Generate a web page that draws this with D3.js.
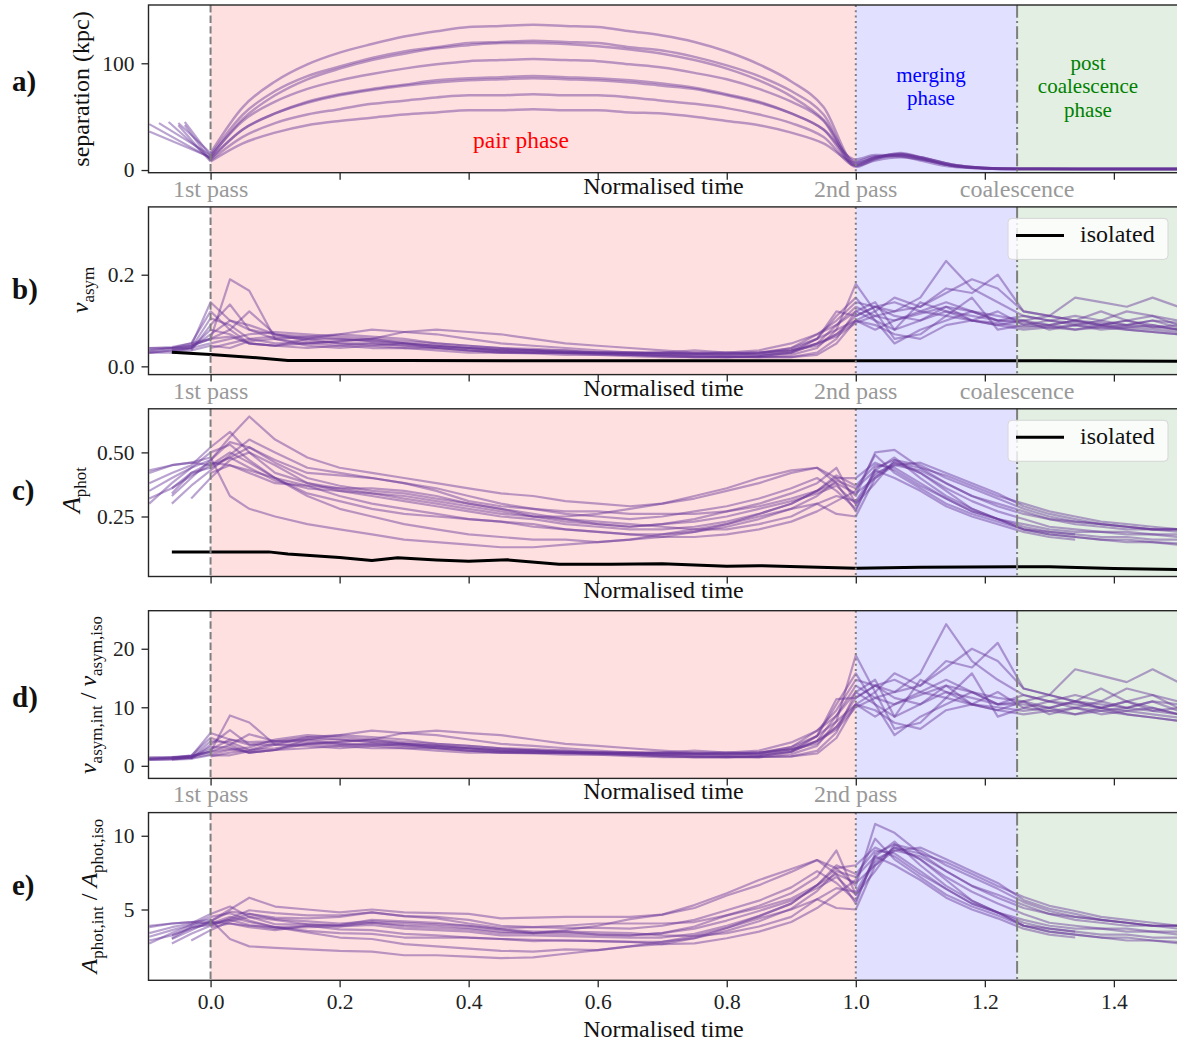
<!DOCTYPE html>
<html><head><meta charset="utf-8">
<script src="https://cdn.jsdelivr.net/npm/d3@7"></script>
<style>
body{margin:0;background:#fff}
svg{display:block}
text{font-family:"Liberation Serif","DejaVu Serif",serif}
</style>
</head><body>
<svg id="chart" width="1177" height="1043"></svg>
<script>
// ---------------- DATA ----------------
const xTickValues = [0, 0.2, 0.4, 0.6, 0.8, 1.0, 1.2, 1.4];
const xTickLabels = ["0.0", "0.2", "0.4", "0.6", "0.8", "1.0", "1.2", "1.4"];
const phaseBounds = [0, 1, 1.25, 1.5];
const markerTimes = [0, 1, 1.25];
const markerLabels = ["1st pass", "2nd pass", "coalescence"];
const panelLetters = ["a)", "b)", "c)", "d)", "e)"];
const phaseNames = [["pair phase"], ["merging", "phase"], ["post", "coalescence", "phase"]];

// panel a: separation (kpc)
const sepTimes = [-0.095,-0.08,-0.065,-0.05,-0.04,-0.025,0,0.05,0.1,0.15,0.2,0.25,0.3,0.35,0.4,0.45,0.5,0.55,0.6,0.65,0.7,0.75,0.8,0.85,0.9,0.95,1.0,1.03,1.07,1.1,1.15,1.2,1.25,1.35,1.5];
const sepLines = [
 [null,null,null,44,null,null, 16, 59,83,99,110,118,125,130,134,135,136,135,134,130,126,120,111,99,83,59, 6,12,14,11,4,2,1.2,1,1],
 [null,44,null,null,null,null, 14, 52,74,88,97,105,111,115,119,120,121,120,119,115,112,106,98,88,74,52, 4,11,15,12,5,2,1.2,1,1],
 [36,null,null,null,null,null, 12, 48,70,85,95,103,109,114,117,119,119,118,116,113,109,103,95,84,69,47, 8,13,13,10,4,1.5,1,1,1],
 [null,null,null,null,45,null, 13, 46,64,76,84,90,95,99,102,103,104,103,102,99,96,91,85,76,64,46, 3,10,14,12,5,2,1,1,1],
 [null,null,45,null,null,null, 10, 38,53,64,71,76,80,84,86,87,88,87,86,84,81,77,71,64,53,38, 5,12,15,11,4,1.5,1,1,1],
 [43,null,null,null,null,null, 11, 38,53,63,70,75,79,82,84,85,86,85,84,82,79,76,70,63,53,38, 10,14,13,9,3,1.5,1,1,1],
 [null,null,null,null,42,null, 9, 31,44,52,57,62,65,68,70,70,71,70,70,68,65,62,58,52,44,31, 4,9,12,10,4,2,1.2,1,1],
 [null,null,null,42,null,null, 8, 25,35,42,46,49,52,54,56,56,57,56,56,54,53,50,46,42,35,25, 7,11,16,12,5,2,1,1,1]
];

// panels b-e share one time grid
const timeGrid = [-0.095,-0.06,-0.03,0,0.03,0.06,0.1,0.15,0.2,0.25,0.3,0.35,0.4,0.45,0.5,0.55,0.6,0.65,0.7,0.75,0.8,0.85,0.9,0.94,0.97,1.0,1.03,1.06,1.1,1.14,1.18,1.22,1.26,1.3,1.34,1.38,1.42,1.46,1.5];

// panel b: v_asym
const vasymLines = [
 [.04,.042,.05, .06,.19,.165,.06, .05,.045,.04,.04,.035,.03,.03,.028,.025,.025,.022,.02,.02,.02,.022, .03,.05,.09, .13,.11,.12,.15,.23,.17,.14, .11,.1,.09,.1,.09,.085,.08],
 [.03,.035,.045, .14,.1,.08,.07, .065,.06,.055,.05,.045,.04,.035,.035,.03,.03,.028,.025,.025,.022,.02, .025,.04,.08, .18,.12,.15,.13,.17,.16,.2, .12,.11,.1,.09,.085,.09,.08],
 [null,.03,.04, .105,.09,.06,.05, .05,.055,.06,.05,.045,.04,.035,.03,.03,.028,.025,.025,.022,.02,.02, .02,.03,.06, .12,.14,.08,.1,.13,.12,.1, .1,.11,.1,.12,.1,.11,.09],
 [null,null,.035, .09,.135,.08,.06, .045,.04,.045,.05,.04,.035,.03,.03,.03,.028,.025,.022,.02,.02,.022, .03,.06,.11, .15,.1,.08,.14,.12,.1,.09, .1,.08,.09,.085,.08,.075,.07],
 [.035,.04,.04, .05,.06,.07,.075, .07,.065,.06,.055,.05,.045,.04,.038,.035,.03,.03,.028,.028,.025,.025, .03,.05,.07, .11,.13,.14,.12,.11,.1,.12, .09,.1,.11,.1,.12,.11,.1],
 [.03,.035,.04, .08,.07,.05,.045, .06,.07,.065,.06,.05,.045,.04,.035,.03,.03,.028,.03,.035,.03,.025, .035,.045,.07, .1,.08,.1,.12,.14,.12,.1, .095,.09,.1,.09,.1,.09,.08],
 [null,.04,.045, .06,.08,.12,.07, .06,.05,.045,.04,.04,.035,.032,.03,.03,.028,.026,.025,.025,.025,.028, .04,.07,.1, .14,.13,.12,.13,.16,.19,.17, .12,.11,.15,.14,.13,.15,.13],
 [.035,.04,.05, .12,.08,.05,.045, .04,.045,.05,.045,.04,.035,.03,.03,.028,.025,.025,.022,.02,.02,.02, .02,.025,.05, .1,.09,.07,.06,.09,.1,.09, .08,.085,.08,.09,.08,.075,.07],
 [null,null,null, .04,.05,.06,.065, .06,.06,.055,.05,.045,.04,.035,.035,.032,.03,.03,.03,.028,.03,.035, .05,.07,.09, .12,.1,.05,.08,.1,.12,.11, .1,.09,.08,.085,.09,.1,.095],
 [.03,.03,.035, .045,.04,.055,.06, .065,.07,.08,.075,.07,.06,.05,.045,.04,.035,.03,.03,.028,.028,.03, .04,.06,.08, .1,.12,.06,.07,.11,.15,.08, .09,.085,.09,.08,.085,.08,.075],
 [null,.035,.04, .07,.1,.09,.07, .055,.05,.05,.045,.042,.04,.038,.035,.035,.03,.03,.028,.028,.027,.03, .035,.06,.12, .11,.13,.11,.1,.12,.11,.1, .11,.1,.095,.09,.1,.085,.09],
 [.04,.04,.045, .06,.065,.05,.045, .05,.055,.06,.075,.08,.075,.07,.06,.05,.045,.04,.035,.03,.03,.03, .035,.05,.065, .095,.11,.1,.115,.13,.1,.095, .085,.09,.1,.095,.09,.1,.085]
];
const vasymIsoTimes = [-0.06, 0.0, 0.06, 0.12, 0.3, 0.5, 0.7, 0.9, 1.1, 1.3, 1.5];
const vasymIso = [0.031, 0.026, 0.02, 0.013, 0.013, 0.012, 0.012, 0.012, 0.012, 0.012, 0.011];

// panel c: A_phot
const aphotLines = [
 [null,.33,.40, .47,.56,.64,.55, .48,.44,.42,.40,.38,.36,.34,.33,.31,.30,.29,.30,.32,.35,.38, .42,.44,.40, .33,.50,.51,.44,.38,.33,.29, .26,.24,.23,.22,.21,.2,.2],
 [.43,.45,.46, .48,.33,.28,.25, .22,.2,.18,.16,.15,.14,.13,.13,.14,.15,.16,.18,.2,.22,.25, .28,.3,.26, .25,.4,.46,.42,.35,.28,.24, .2,.18,.17,.16,.16,.15,.145],
 [.35,.4,.44, .47,.54,.52,.46, .40,.37,.35,.34,.32,.30,.28,.26,.24,.22,.21,.22,.24,.27,.30, .34,.38,.44, .3,.38,.47,.45,.40,.36,.32, .28,.25,.23,.22,.21,.2,.2],
 [null,.3,.37, .43,.49,.55,.50, .44,.42,.40,.38,.36,.33,.30,.28,.26,.25,.24,.25,.27,.29,.32, .36,.40,.35, .28,.43,.48,.40,.33,.28,.24, .21,.19,.18,.17,.17,.16,.16],
 [null,null,.32, .40,.47,.5,.45, .38,.35,.33,.31,.29,.27,.25,.24,.22,.21,.20,.20,.21,.23,.26, .30,.35,.41, .37,.45,.44,.38,.32,.27,.24, .22,.2,.19,.19,.18,.18,.17],
 [.42,.45,.46, .45,.48,.44,.39, .36,.35,.34,.32,.3,.28,.26,.25,.24,.23,.22,.21,.2,.2,.22, .25,.3,.33, .31,.42,.45,.43,.38,.33,.3, .27,.24,.22,.21,.2,.2,.19],
 [.3,.38,.44, .5,.53,.47,.4, .34,.31,.28,.26,.25,.24,.23,.22,.2,.19,.18,.17,.17,.18,.2, .23,.27,.31, .35,.49,.42,.36,.3,.26,.23, .2,.19,.18,null,null,null,null],
 [null,.34,.42, .46,.45,.42,.38, .37,.36,.36,.35,.33,.3,.28,.25,.23,.22,.21,.22,.23,.25,.28, .31,.34,.37, .3,.41,.46,.44,.41,.37,.33, .3,.27,.25,.23,.22,.21,.2],
 [null,null,null, .42,.45,.43,.4, .37,.33,.3,.28,.26,.24,.23,.21,.2,.19,.18,.18,.19,.21,.24, .28,.33,.39, .36,.43,.4,.35,.29,.25,.22, .19,.17,.16,null,null,null,null],
 [.38,.42,.45, .52,.58,.5,.42, .38,.36,.34,.33,.31,.29,.27,.25,.25,.26,.28,.3,.33,.36,.4, .43,.44,.38, .27,.44,.47,.42,.36,.31,.27, .24,.21,.2,.19,.19,.18,.18],
 [.32,.36,.41, .45,.5,.46,.4, .33,.28,.25,.22,.2,.18,.17,.16,.16,.15,.16,.17,.19,.22,.26, .3,.35,.4, .4,.46,.43,.37,.32,.27,.24, .2,.18,.17,.16,.15,.15,.14],
 [null,.36,.42, .44,.48,.52,.47, .42,.41,.4,.38,.35,.31,.29,.28,.27,.27,.26,.26,.26,.27,.29, .32,.35,.38, .34,.40,.45,.46,.42,.38,.34, .29,.26,.24,.22,.21,.2,.2]
];
const aphotIsoTimes = [-0.06,0.09,0.12,0.2,0.25,0.29,0.35,0.4,0.46,0.54,0.62,0.7,0.8,0.85,1.0,1.1,1.25,1.3,1.4,1.5];
const aphotIso = [0.112,0.112,0.104,0.09,0.078,0.089,0.08,0.075,0.081,0.064,0.064,0.066,0.056,0.058,0.048,0.052,0.054,0.054,0.047,0.043];

// panel d: v_asym,int / v_asym,iso
const vratioLines = [
 [1.4,1.5,1.75, 2.4,8.6,7.4,3.6, 3.75,3.4,3.0,3.0,2.6,2.25,2.25,2.1,1.9,1.9,1.65,1.5,1.5,1.5,1.65, 2.4,4.25,8.6, 13.7,11.6,12.6,15.8,24.2,17.9,14.7, 12.1,11,9.9,11,9.9,9.4,8.8],
 [1.05,1.2,1.6, 5.6,4.5,3.6,4.2, 4.9,4.5,4.1,3.75,3.4,3.0,2.6,2.6,2.25,2.25,2.1,1.9,1.9,1.65,1.5, 2.0,3.4,7.6, 18.9,12.6,15.8,13.7,17.9,16.8,21, 13.2,12.1,11,9.9,9.4,9.9,8.8],
 [null,1.05,1.4, 4.2,4.05,2.7,3.0, 3.75,4.1,4.5,3.75,3.4,3.0,2.6,2.25,2.25,2.1,1.9,1.9,1.65,1.5,1.5, 1.6,2.55,5.7, 12.6,14.7,8.4,10.5,13.7,12.6,10.5, 11,12.1,11,13.2,11,12.1,9.9],
 [null,null,1.2, 3.6,6.1,3.6,3.6, 3.4,3.0,3.4,3.75,3.0,2.6,2.25,2.25,2.25,2.1,1.9,1.65,1.5,1.5,1.65, 2.4,5.1,10.5, 15.8,10.5,8.4,14.7,12.6,10.5,9.5, 11,8.8,9.9,9.4,8.8,8.25,7.7],
 [1.2,1.4,1.4, 2.0,2.7,3.15,4.5, 5.25,4.9,4.5,4.1,3.75,3.4,3.0,2.85,2.6,2.25,2.25,2.1,2.1,1.9,1.9, 2.4,4.25,6.65, 11.6,13.7,14.7,12.6,11.6,10.5,12.6, 9.9,11,12.1,11,13.2,12.1,11],
 [1.05,1.2,1.4, 3.2,3.15,2.25,2.7, 4.5,5.25,4.9,4.5,3.75,3.4,3.0,2.6,2.25,2.25,2.1,2.25,2.6,2.25,1.9, 2.8,3.8,6.65, 10.5,8.4,10.5,12.6,14.7,12.6,10.5, 10.5,9.9,11,9.9,11,9.9,8.8],
 [null,1.4,1.6, 2.4,3.6,5.4,4.2, 4.5,3.75,3.4,3.0,3.0,2.6,2.4,2.25,2.25,2.1,1.95,1.9,1.9,1.9,2.1, 3.2,6.0,9.5, 14.7,13.7,12.6,13.7,16.8,20,17.9, 13.2,12.1,16.5,15.4,14.3,16.5,14.3],
 [1.2,1.4,1.75, 4.8,3.6,2.25,2.7, 3.0,3.4,3.75,3.4,3.0,2.6,2.25,2.25,2.1,1.9,1.9,1.65,1.5,1.5,1.5, 1.6,2.1,4.75, 10.5,9.5,7.35,6.3,9.5,10.5,9.5, 8.8,9.4,8.8,9.9,8.8,8.25,7.7],
 [null,null,null, 1.6,2.25,2.7,3.9, 4.5,4.5,4.1,3.75,3.4,3.0,2.6,2.6,2.4,2.25,2.25,2.25,2.1,2.25,2.6, 4.0,6.0,8.55, 12.6,10.5,5.25,8.4,10.5,12.6,11.6, 11,9.9,8.8,9.4,9.9,11,10.5],
 [1.05,1.05,1.2, 1.8,1.8,2.5,3.6, 4.9,5.25,6.0,5.6,5.25,4.5,3.75,3.4,3.0,2.6,2.25,2.25,2.1,2.1,2.25, 3.2,5.1,7.6, 10.5,12.6,6.3,7.35,11.6,15.8,8.4, 9.9,9.4,9.9,8.8,9.4,8.8,8.25],
 [null,1.2,1.4, 2.8,4.5,4.05,4.2, 4.1,3.75,3.75,3.4,3.15,3.0,2.85,2.6,2.6,2.25,2.25,2.1,2.1,2.0,2.25, 2.8,5.1,11.4, 11.6,13.7,11.6,10.5,12.6,11.6,10.5, 12.1,11,10.5,9.9,11,9.4,9.9],
 [1.4,1.4,1.6, 2.4,2.9,2.25,2.7, 3.75,4.1,4.5,5.6,6.0,5.6,5.25,4.5,3.75,3.4,3.0,2.6,2.25,2.25,2.25, 2.8,4.25,6.2, 10,11.6,10.5,12.1,13.7,10.5,10, 9.4,9.9,11,10.5,9.9,11,9.4]
];

// panel e: A_phot,int / A_phot,iso
const aratioLines = [
 [null,3.0,3.6, 4.2,5.0,5.8,5.2, 5.0,4.8,5.0,4.8,4.75,4.7,4.4,4.45,4.5,4.5,4.5,4.65,5.1,5.95,6.65, 7.55,8.35,7.8, 6.6,10.8,10.2,8.8,7.6,6.6,5.8, 5.1,4.7,4.5,4.3,4.1,3.9,3.9],
 [3.9,4.05,4.15, 4.3,3.0,2.5,2.4, 2.3,2.2,2.15,1.9,1.9,1.8,1.7,1.75,2.0,2.25,2.5,2.8,3.2,3.75,4.4, 5.0,5.7,5.1, 5.0,8.0,9.2,8.4,7.0,5.6,4.8, 3.9,3.5,3.3,3.1,3.1,2.9,2.8],
 [3.15,3.6,3.95, 4.2,4.85,4.7,4.35, 4.2,4.05,4.2,4.1,4.0,3.9,3.65,3.5,3.5,3.3,3.25,3.4,3.85,4.6,5.25, 6.1,7.2,9.0, 6.0,7.6,9.4,9.0,8.0,7.2,6.4, 5.5,4.9,4.5,4.3,4.1,3.9,3.9],
 [null,2.7,3.35, 3.9,4.4,4.95,4.75, 4.6,4.6,4.8,4.55,4.5,4.3,3.9,3.8,3.75,3.75,3.7,3.9,4.3,4.95,5.6, 6.5,7.6,6.8, 5.6,8.6,9.6,8.0,6.6,5.6,4.8, 4.1,3.7,3.5,3.3,3.3,3.1,3.1],
 [null,null,2.9, 3.6,4.2,4.5,4.3, 4.0,3.85,3.95,3.7,3.6,3.5,3.25,3.25,3.2,3.15,3.1,3.1,3.35,3.9,4.55, 5.4,6.65,8.0, 7.4,9.0,8.8,7.6,6.4,5.4,4.8, 4.3,3.9,3.7,3.7,3.5,3.5,3.3],
 [3.8,4.05,4.15, 4.05,4.3,3.95,3.7, 3.8,3.85,4.1,3.85,3.75,3.65,3.4,3.4,3.5,3.45,3.4,3.25,3.2,3.4,3.85, 4.5,5.7,6.45, 6.2,8.4,9.0,8.6,7.6,6.6,6.0, 5.3,4.7,4.3,4.1,3.9,3.9,3.7],
 [2.7,3.4,3.95, 4.5,4.75,4.25,3.8, 3.55,3.4,3.35,3.1,3.1,3.1,3.0,2.95,2.9,2.85,2.8,2.65,2.7,3.05,3.5, 4.15,5.1,6.05, 7.0,9.8,8.4,7.2,6.0,5.2,4.6, 3.9,3.7,3.5,null,null,null,null],
 [null,3.05,3.8, 4.15,4.05,3.8,3.6, 3.9,3.95,4.3,4.2,4.1,3.9,3.65,3.4,3.35,3.3,3.25,3.4,3.7,4.25,4.9, 5.6,6.45,7.2, 6.0,8.2,9.2,8.8,8.2,7.4,6.6, 5.85,5.25,4.9,4.5,4.3,4.1,3.9],
 [null,null,null, 3.8,4.05,3.9,3.8, 3.9,3.65,3.6,3.35,3.25,3.1,3.0,2.85,2.9,2.85,2.8,2.8,3.05,3.55,4.2, 5.05,6.25,7.6, 7.2,8.6,8.0,7.0,5.8,5.0,4.4, 3.7,3.3,3.1,null,null,null,null],
 [3.4,3.8,4.05, 4.7,5.2,4.5,4.0, 4.0,3.95,4.1,3.95,3.9,3.75,3.5,3.4,3.6,3.9,4.35,4.65,5.3,6.1,7.0, 7.75,8.35,7.4, 5.4,8.8,9.4,8.4,7.2,6.2,5.4, 4.7,4.1,3.9,3.7,3.7,3.5,3.5],
 [2.9,3.25,3.7, 4.05,4.5,4.15,3.8, 3.45,3.1,3.0,2.65,2.5,2.35,2.2,2.15,2.3,2.25,2.5,2.65,3.05,3.75,4.55, 5.4,6.65,7.8, 8.0,9.2,8.6,7.4,6.4,5.4,4.8, 3.9,3.5,3.3,3.1,2.9,2.9,2.7],
 [null,3.25,3.8, 3.95,4.3,4.7,4.45, 4.4,4.5,4.8,4.55,4.4,4.05,3.75,3.8,3.9,4.05,4.05,4.05,4.15,4.6,5.1, 5.75,6.65,7.4, 6.8,8.0,9.0,9.2,8.4,7.6,6.8, 5.65,5.05,4.7,4.3,4.1,3.9,3.9]
];

// axis domains and ticks
const yDomains = [[-2.5,154.6],[-0.018,0.348],[0.016,0.67],[-2.15,26.5],[0.2,11.57]];
const yTicks = [[0,100],[0,0.2],[0.25,0.5],[0,10,20],[5,10]];
const yTickFormats = ["d", ".1f", ".2f", "d", "d"];

// ---------------- LAYOUT / STYLE ----------------
const layout = {
  left: 148.5, right: 1178.4,
  top0: 5, step: 201.9, h: 167.7,
  letterBase: [91, 299, 500, 707, 895],
  labelCenter: [89, 290, 490, 695, 896],
  labelBase: [89, 88, 80, 96, 97],
  phaseText: [{cx: 521, base: 148}, {cx: 931, base: 82}, {cx: 1088, base: 70}],
  phaseFont: 21, phaseLead: 23.4
};
const phaseFills = ["rgb(255,224,224)", "rgb(225,225,255)", "rgb(226,239,226)"];
const phaseTextColors = ["#ff0000", "#0000ff", "#008000"];
const purple = "rgb(102,51,153)";
const grey = "#7f7f7f";

const svg = d3.select("#chart");
const defs = svg.append("defs");
const x = d3.scaleLinear().domain([-0.0962, 1.5]).range([layout.left, layout.right]);

function series(times, vals) {
  return times.map((t, k) => [t, vals[k]]).filter(p => p[1] !== null && p[1] !== undefined);
}

function drawPanel(i) {
  const top = layout.top0 + i * layout.step, bot = top + layout.h;
  const y = d3.scaleLinear().domain(yDomains[i]).range([bot, top]);
  const g = svg.append("g");
  const cid = "clip" + i;
  defs.append("clipPath").attr("id", cid).append("rect")
    .attr("x", layout.left).attr("y", top).attr("width", layout.right - layout.left).attr("height", layout.h);

  // phase backgrounds
  g.selectAll("rect.ph").data([0, 1, 2]).join("rect").attr("class", "ph")
    .attr("x", k => x(phaseBounds[k])).attr("width", k => x(phaseBounds[k + 1]) - x(phaseBounds[k]) + (k === 2 ? 5 : 0))
    .attr("y", top).attr("height", layout.h).attr("fill", k => phaseFills[k]);

  const lg = g.append("g").attr("clip-path", `url(#${cid})`);
  const lin = d3.line().x(d => x(d[0])).y(d => y(d[1]));
  const smooth = d3.line().x(d => x(d[0])).y(d => y(d[1])).curve(d3.curveMonotoneX);
  const sty = sel => sel.attr("fill", "none").attr("stroke", purple).attr("stroke-opacity", 0.45)
      .attr("stroke-width", 2.2).attr("stroke-linejoin", "round");

  if (i === 0) {
    sepLines.forEach(vals => {
      const pts = series(sepTimes, vals);
      lg.append("path").datum(pts.filter(p => p[0] <= 0)).attr("d", lin).call(sty);
      lg.append("path").datum(pts.filter(p => p[0] >= 0)).attr("d", smooth).call(sty).attr("stroke-width", 2.5);
    });
  } else {
    const sets = [null, vasymLines, aphotLines, vratioLines, aratioLines][i];
    sets.forEach(vals => lg.append("path").datum(series(timeGrid, vals)).attr("d", lin).call(sty));
    if (i === 1 || i === 2) {
      const iso = i === 1 ? series(vasymIsoTimes, vasymIso) : series(aphotIsoTimes, aphotIso);
      lg.append("path").datum(iso).attr("d", lin).attr("fill", "none").attr("stroke", "#000")
        .attr("stroke-width", 3).attr("stroke-linejoin", "round");
    }
  }

  // phase boundary lines
  const vl = [[0, "7.4,3.2"], [1, "2,3.3"], [1.25, "12.8,3.2,2,3.2"]];
  vl.forEach(([t, dash]) => {
    g.append("line").attr("x1", x(t)).attr("x2", x(t)).attr("y1", top).attr("y2", bot)
      .attr("stroke", grey).attr("stroke-width", 2).attr("stroke-dasharray", dash);
  });

  // frame
  g.append("rect").attr("x", layout.left).attr("y", top).attr("width", layout.right - layout.left)
    .attr("height", layout.h).attr("fill", "none").attr("stroke", "#262626").attr("stroke-width", 1.4);

  // axes
  const ya = g.append("g").attr("transform", `translate(${layout.left},0)`)
    .call(d3.axisLeft(y).tickValues(yTicks[i]).tickSize(7).tickPadding(7).tickFormat(d3.format(yTickFormats[i])));
  const xa = g.append("g").attr("transform", `translate(0,${bot})`)
    .call(d3.axisBottom(x).tickValues(xTickValues).tickSize(7).tickPadding(6)
      .tickFormat((d, k) => i === 4 ? xTickLabels[k] : ""));
  [ya, xa].forEach(a => {
    a.select(".domain").remove();
    a.selectAll(".tick line").attr("stroke", "#262626").attr("stroke-width", 1.3);
    a.selectAll(".tick text").attr("font-family", "Liberation Serif, serif").attr("font-size", 21.5).attr("fill", "#222");
  });

  // marker labels below the axis
  const nMarks = [3, 3, 0, 2, 0][i];
  for (let k = 0; k < nMarks; k++) {
    g.append("text").attr("x", x(markerTimes[k])).attr("y", bot + 24).attr("text-anchor", "middle")
      .attr("font-size", 24).attr("fill", "#999").text(markerLabels[k]);
  }
  // x label
  g.append("text").attr("x", (layout.left + layout.right) / 2).attr("y", i === 4 ? bot + 57 : bot + 21)
    .attr("text-anchor", "middle").attr("font-size", 24).attr("fill", "#111").text("Normalised time");

  // panel letter
  g.append("text").attr("x", 12).attr("y", layout.letterBase[i]).attr("font-size", 29)
    .attr("font-weight", "bold").attr("fill", "#111").text(panelLetters[i]);

  // y label
  const yl = g.append("text").attr("transform", `translate(${layout.labelBase[i]},${layout.labelCenter[i]}) rotate(-90)`)
    .attr("text-anchor", "middle").attr("font-size", 24).attr("fill", "#111");
  const ital = (txt, fs) => yl.append("tspan").attr("font-style", "italic").attr("font-size", fs || null).attr("dy", 0).text(txt);
  const sub = (txt) => yl.append("tspan").attr("font-size", 17).attr("dy", 6).text(txt);
  const back = (txt) => yl.append("tspan").attr("dy", -6).text(txt);
  if (i === 0) yl.text("separation (kpc)");
  if (i === 1) { ital("v"); sub("asym"); }
  if (i === 2) { ital("A", 26); sub("phot"); }
  if (i === 3) { ital("v"); sub("asym,int"); back(" / "); ital("v"); sub("asym,iso"); }
  if (i === 4) { ital("A"); sub("phot,int"); back(" / "); ital("A"); sub("phot,iso"); }

  // legend
  if (i === 1 || i === 2) {
    const lgd = g.append("g");
    lgd.append("rect").attr("x", 1008).attr("y", top + 11.5).attr("width", 160).attr("height", 41).attr("rx", 4)
      .attr("fill", "#fff").attr("fill-opacity", 0.8).attr("stroke", "#d6d6d6").attr("stroke-width", 1);
    lgd.append("line").attr("x1", 1016).attr("x2", 1064).attr("y1", top + 28.5).attr("y2", top + 28.5)
      .attr("stroke", "#000").attr("stroke-width", 3);
    lgd.append("text").attr("x", 1080).attr("y", top + 35).attr("font-size", 24).attr("fill", "#111").text("isolated");
  }

  // phase names (panel a)
  if (i === 0) {
    phaseNames.forEach((lines, p) => {
      const fs = p === 0 ? 23.5 : layout.phaseFont;
      lines.forEach((s, k) => {
        g.append("text").attr("x", layout.phaseText[p].cx).attr("y", layout.phaseText[p].base + k * layout.phaseLead)
          .attr("text-anchor", "middle").attr("font-size", fs).attr("fill", phaseTextColors[p]).text(s);
      });
    });
  }
}

for (let i = 0; i < 5; i++) drawPanel(i);
</script>
</body></html>
